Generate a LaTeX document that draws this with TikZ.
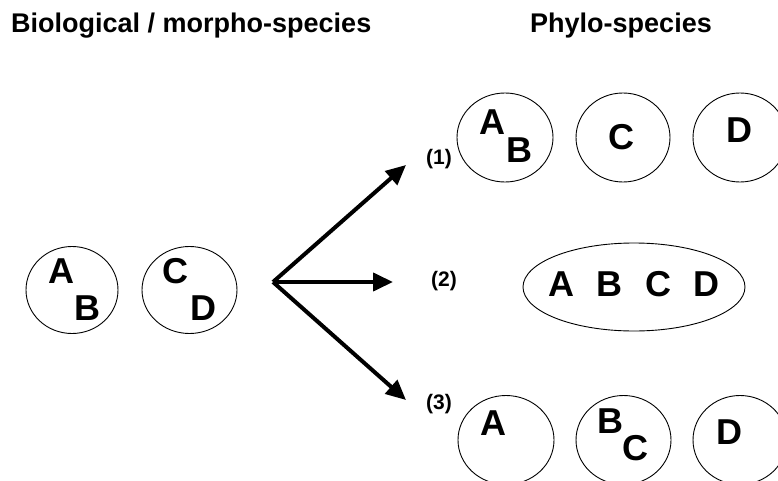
\documentclass[tikz,border=0pt]{standalone}
\usepackage{fontspec}
\setmainfont{Liberation Sans}
\usetikzlibrary{shapes.geometric,arrows.meta}
\begin{document}
\begin{tikzpicture}[x=1pt,y=-1pt,
  sp/.style={draw, ellipse, line width=0.9pt, inner sep=0pt, minimum width=96pt, minimum height=89pt},
  big/.style={inner sep=0pt, font=\fontsize{36}{40}\selectfont\bfseries},
  head/.style={inner sep=0pt, anchor=base west, font=\fontsize{27}{31}\selectfont\bfseries},
  lab/.style={inner sep=0pt, font=\fontsize{21}{24}\selectfont\bfseries},
  arr/.style={line width=4pt, -{Triangle[length=20pt,width=18pt]}}]
\useasboundingbox (0,0) rectangle (778,481);
\clip (0,0) rectangle (778,481);
% headings
\node[head] (h1) at (11,33) {Biological / morpho-species};
\node[head] (h2) at (530,33) {Phylo-species};
% left species
\node[sp, minimum width=92pt, minimum height=87pt] (l1) at (72,290) {};
\node[sp, minimum width=95pt, minimum height=87pt] (l2) at (189.5,290) {};
\node[big] (la) at (61,271) {A};
\node[big] (lb) at (87,308) {B};
\node[big] (lc) at (175,271) {C};
\node[big] (ld) at (203,308) {D};
% arrows
\coordinate (o) at (273,282);
\coordinate (t1) at (406,165);
\coordinate (t2) at (393,282);
\coordinate (t3) at (406,400);
\draw[arr] (o) -- (t1);
\draw[arr] (o) -- (t2);
\draw[arr] (o) -- (t3);
\node[lab] (n1) at (439,159) {(1)};
\node[lab] (n2) at (444,281) {(2)};
\node[lab] (n3) at (439,404) {(3)};
% row 1
\node[sp] (r1a) at (505,137.5) {};
\node[sp, minimum width=94pt] (r1b) at (623,137.5) {};
\node[sp, minimum width=94pt] (r1c) at (740,137.5) {};
\node[big] (r1A) at (492,122) {A};
\node[big] (r1B) at (519.5,150) {B};
\node[big] (r1C) at (621,137) {C};
\node[big] (r1D) at (739,130) {D};
% row 2
\node[sp, minimum width=222pt, minimum height=88pt] (r2) at (634,287) {};
\node[big] (r2t) at (634,284.5) {A\hspace{0.62em}B\hspace{0.62em}C\hspace{0.62em}D};
% row 3
\node[sp] (r3a) at (506,440) {};
\node[sp, minimum width=95pt] (r3b) at (623.5,440) {};
\node[sp, minimum width=94pt] (r3c) at (740,440) {};
\node[big] (r3A) at (493,423) {A};
\node[big] (r3B) at (610,421) {B};
\node[big] (r3C) at (635,448) {C};
\node[big] (r3D) at (729,432) {D};
\end{tikzpicture}
\end{document}
